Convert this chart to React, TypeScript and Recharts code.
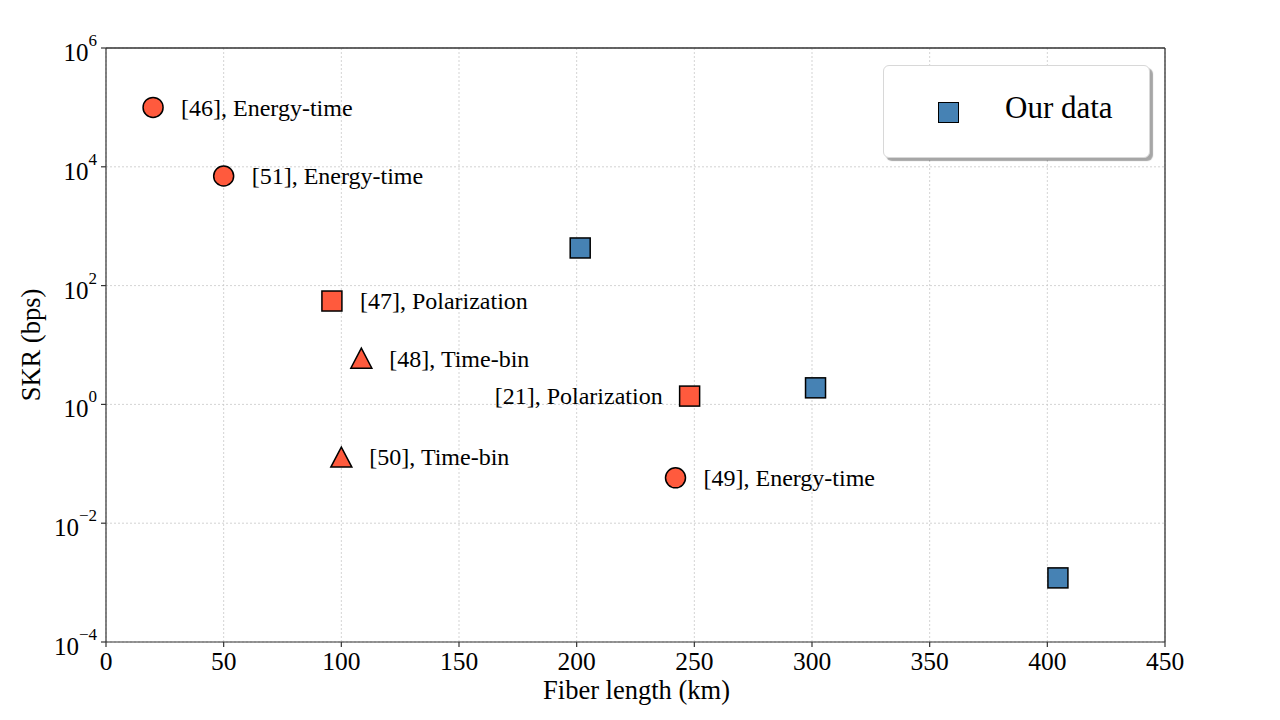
import React from "react";
import {
  ScatterChart,
  Scatter,
  XAxis,
  YAxis,
  CartesianGrid,
  ReferenceLine,
  Legend,
  Label,
} from "recharts";

const FONT = "'Liberation Serif', 'Times New Roman', serif";
const RED = "#FF5A3D";
const BLUE = "#4682B4";

// fiber length (km) / SKR (bps)
const circleX = [20, 50, 242];
const circleY = [1e5, 7000, 0.058];
const circleLabels = ["[46], Energy-time", "[51], Energy-time", "[49], Energy-time"];

const squareX = [96, 248];
const squareY = [55, 1.38];
const squareLabels = ["[47], Polarization", "[21], Polarization"];
const squareSides = ["right", "left"];

const triangleX = [108.5, 100];
const triangleY = [6, 0.13];
const triangleLabels = ["[48], Time-bin", "[50], Time-bin"];

const ourX = [201.5, 301.5, 404.5];
const ourY = [430, 1.9, 0.0012];

const xTicks = [0, 50, 100, 150, 200, 250, 300, 350, 400, 450];
const yTicks = [1e-4, 1e-2, 1, 1e2, 1e4, 1e6];

const build = (xs: number[], ys: number[], labels?: string[], sides?: string[]) =>
  xs.map((x, i) => ({
    x,
    y: ys[i],
    label: labels ? labels[i] : "",
    side: sides ? sides[i] : "right",
  }));

const circles = build(circleX, circleY, circleLabels);
const squares = build(squareX, squareY, squareLabels, squareSides);
const triangles = build(triangleX, triangleY, triangleLabels);
const ours = build(ourX, ourY);

const makeShape = (kind: string, color: string) => (props: any) => {
  const { cx, cy, payload } = props;
  let mark;
  if (kind === "circle") {
    mark = <circle cx={cx} cy={cy} r={10} fill={color} stroke="#000" strokeWidth={1.5} />;
  } else if (kind === "square") {
    mark = (
      <rect x={cx - 10} y={cy - 10} width={20} height={20} fill={color} stroke="#000" strokeWidth={1.5} />
    );
  } else {
    mark = (
      <polygon
        points={`${cx},${cy - 10} ${cx - 10.5},${cy + 10} ${cx + 10.5},${cy + 10}`}
        fill={color}
        stroke="#000"
        strokeWidth={1.5}
        strokeLinejoin="miter"
      />
    );
  }
  const left = payload.side === "left";
  return (
    <g>
      {mark}
      {payload.label ? (
        <text
          x={left ? cx - 27 : cx + 28}
          y={cy}
          dy="0.35em"
          textAnchor={left ? "end" : "start"}
          fontFamily={FONT}
          fontSize={24}
          fill="#000"
        >
          {payload.label}
        </text>
      ) : null}
    </g>
  );
};

const YTick = (props: any) => {
  const { x, y, payload } = props;
  const exp = Math.round(Math.log10(payload.value));
  const expText = exp < 0 ? `\u2212${-exp}` : `${exp}`;
  return (
    <text x={x - 1} y={y + 13} textAnchor="end" fontFamily={FONT} fill="#000">
      <tspan fontSize={25}>10</tspan>
      <tspan fontSize={17} dy={-15}>
        {expText}
      </tspan>
    </text>
  );
};

const XTick = (props: any) => {
  const { x, y, payload } = props;
  return (
    <text x={x} y={y + 19} textAnchor="middle" fontFamily={FONT} fontSize={25.5} fill="#000">
      {payload.value}
    </text>
  );
};

const YLabel = (props: any) => {
  const vb = props.viewBox;
  const cy = vb.y + vb.height / 2;
  return (
    <text
      x={31}
      y={cy}
      transform={`rotate(-90, 31, ${cy})`}
      textAnchor="middle"
      dominantBaseline="central"
      fontFamily={FONT}
      fontSize={26.5}
      fill="#000"
    >
      SKR (bps)
    </text>
  );
};

const XLabel = (props: any) => {
  const vb = props.viewBox;
  return (
    <text
      x={vb.x + vb.width / 2 + 1}
      y={699}
      textAnchor="middle"
      fontFamily={FONT}
      fontSize={26.5}
      fill="#000"
    >
      Fiber length (km)
    </text>
  );
};

const LegendBox = () => (
  <div
    style={{
      position: "relative",
      width: 267,
      height: 93,
      boxSizing: "border-box",
      background: "#fff",
      border: "1px solid #d8d8d8",
      borderRadius: 6,
      boxShadow: "3px 3px 1px rgba(0,0,0,0.35)",
      fontFamily: FONT,
    }}
  >
    <div
      style={{
        position: "absolute",
        left: 54,
        top: 36,
        width: 21,
        height: 21,
        boxSizing: "border-box",
        background: BLUE,
        border: "1.5px solid #000",
      }}
    />
    <div
      style={{
        position: "absolute",
        left: 121,
        top: 22,
        fontSize: 31,
        lineHeight: "40px",
        color: "#000",
        whiteSpace: "nowrap",
      }}
    >
      Our data
    </div>
  </div>
);

export default function App() {
  return (
    <div style={{ position: "absolute", left: 0, top: 0, background: "#fff" }}>
      <ScatterChart width={1280} height={720} margin={{ top: 48, right: 115, bottom: 0, left: 0 }}>
        <CartesianGrid stroke="#c8c8c8" strokeDasharray="2 2" strokeWidth={0.8} />
        <XAxis
          type="number"
          dataKey="x"
          domain={[0, 450]}
          ticks={xTicks}
          allowDataOverflow
          height={78}
          tickSize={5}
          tickMargin={4}
          axisLine={{ stroke: "#333", strokeWidth: 1.2 }}
          tickLine={{ stroke: "#333", strokeWidth: 1.2 }}
          tick={<XTick />}
          label={<Label content={<XLabel />} />}
        />
        <YAxis
          type="number"
          dataKey="y"
          scale="log"
          domain={[1e-4, 1e6]}
          ticks={yTicks}
          allowDataOverflow
          width={106}
          tickSize={5}
          tickMargin={3}
          axisLine={{ stroke: "#333", strokeWidth: 1.2 }}
          tickLine={{ stroke: "#333", strokeWidth: 1.2 }}
          tick={<YTick />}
          label={<Label content={<YLabel />} />}
        />
        <ReferenceLine y={1e6} stroke="#333" strokeWidth={1.3} />
        <ReferenceLine x={450} stroke="#333" strokeWidth={1.3} />
        <Legend
          layout="horizontal"
          verticalAlign="middle"
          align="center"
          content={<LegendBox />}
          wrapperStyle={{ position: "absolute", left: 883, top: 65, width: 267, height: 93 }}
        />
        <Scatter
          name="[circle]"
          data={circles}
          legendType="none"
          shape={makeShape("circle", RED)}
          isAnimationActive={false}
        />
        <Scatter
          name="[square]"
          data={squares}
          legendType="none"
          shape={makeShape("square", RED)}
          isAnimationActive={false}
        />
        <Scatter
          name="[triangle]"
          data={triangles}
          legendType="none"
          shape={makeShape("triangle", RED)}
          isAnimationActive={false}
        />
        <Scatter
          name="Our data"
          data={ours}
          shape={makeShape("square", BLUE)}
          isAnimationActive={false}
        />
      </ScatterChart>
    </div>
  );
}
